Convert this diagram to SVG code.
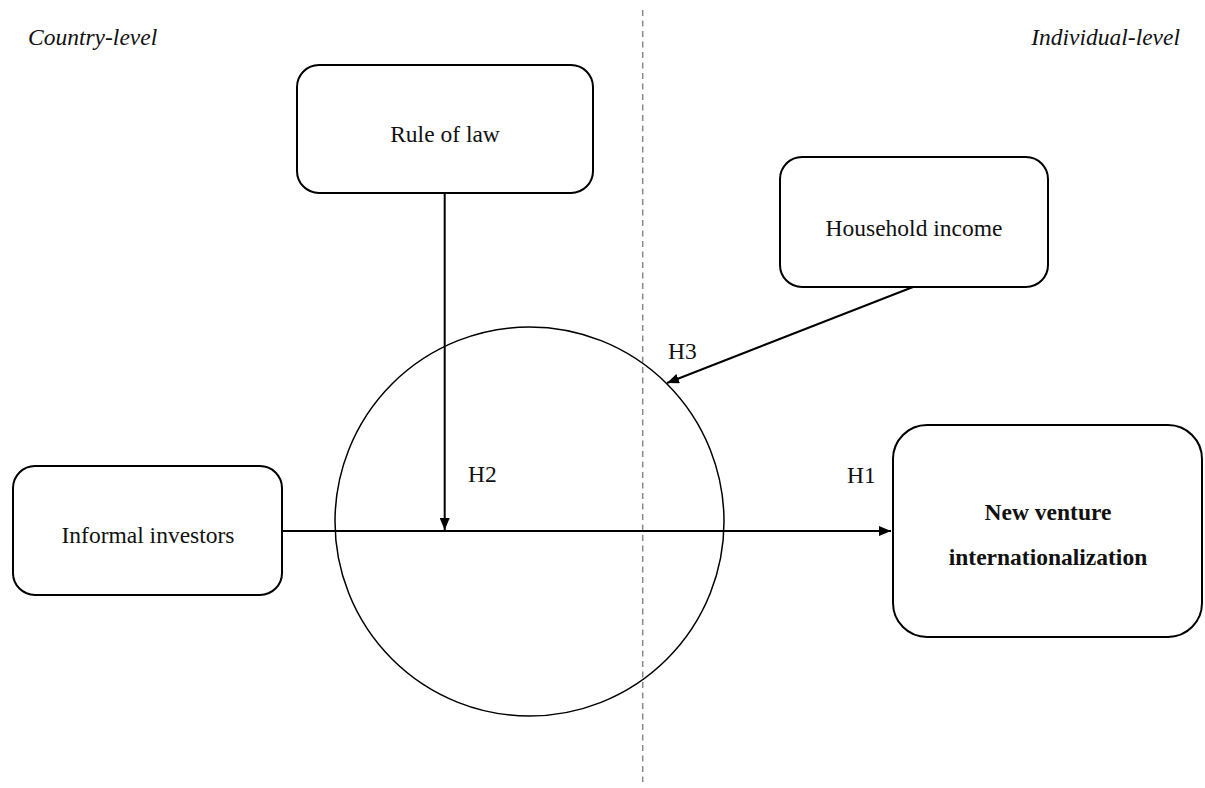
<svg xmlns="http://www.w3.org/2000/svg" width="1205" height="788" viewBox="0 0 1205 788">
<style>
.box{fill:#fff;stroke:#000;stroke-width:2}
.t{font-family:"Liberation Serif",serif;font-size:23.5px;fill:#111;text-anchor:middle}
.h{font-family:"Liberation Serif",serif;font-size:23.5px;fill:#111}
.b{font-weight:bold}
.lvl{font-family:"Liberation Serif",serif;font-size:23.5px;font-style:italic;fill:#111}
.c{stroke:#000;stroke-width:2;fill:none}
</style>
<defs>
<marker id="ah" viewBox="0 0 12 10" refX="12" refY="5" markerWidth="12" markerHeight="10" orient="auto" markerUnits="userSpaceOnUse">
<path d="M0,0 L12,5 L0,10 z" fill="#000"/>
</marker>
</defs>
<rect width="1205" height="788" fill="#fff"/>
<line x1="642.7" y1="10" x2="642.7" y2="782" stroke="#888" stroke-width="1.5" stroke-dasharray="6,4.5"/>
<text class="lvl" x="28" y="45">Country-level</text>
<text class="lvl" x="1180" y="45" text-anchor="end">Individual-level</text>
<g id="moderation-circle"><circle cx="529.5" cy="521.5" r="194.5" fill="none" stroke="#000" stroke-width="1.5"/></g>
<g id="rule-of-law"><rect class="box" x="297" y="65" width="296" height="128" rx="22"/><text class="t" x="445" y="142">Rule of law</text></g>
<g id="household-income"><rect class="box" x="780" y="157" width="268" height="130" rx="22"/><text class="t" x="914" y="236">Household income</text></g>
<g id="informal-investors"><rect class="box" x="13" y="466" width="269" height="129" rx="22"/><text class="t" x="148" y="543">Informal investors</text></g>
<g id="new-venture"><rect class="box" x="893" y="425" width="309" height="212" rx="34"/><text class="t b" x="1048" y="520">New venture</text><text class="t b" x="1048" y="565">internationalization</text></g>
<g id="connectors">
<line class="c" x1="282" y1="531" x2="891" y2="531" marker-end="url(#ah)"/>
<line class="c" x1="444.7" y1="193" x2="444.7" y2="530" marker-end="url(#ah)"/>
<line class="c" x1="913" y1="287" x2="667" y2="383" marker-end="url(#ah)"/>
</g>
<text class="h" x="468" y="482">H2</text>
<text class="h" x="668" y="359">H3</text>
<text class="h" x="847" y="483">H1</text>
</svg>
